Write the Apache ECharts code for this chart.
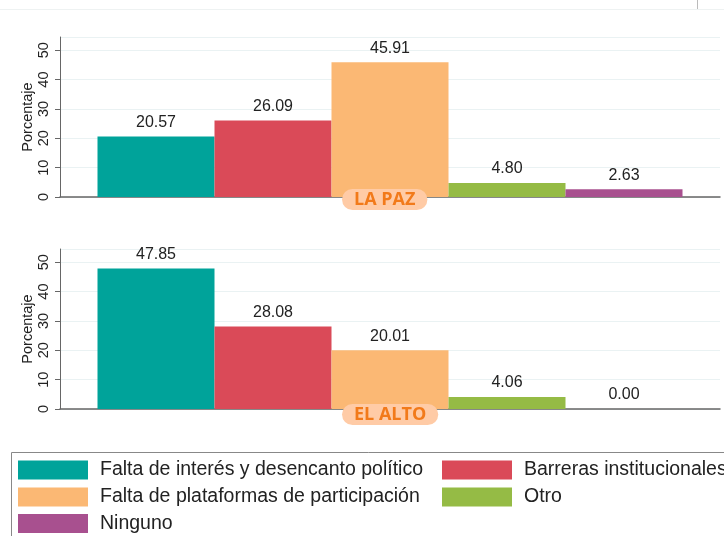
<!DOCTYPE html>
<html>
<head>
<meta charset="utf-8">
<script src="https://cdn.jsdelivr.net/npm/echarts@6/dist/echarts.min.js"></script>
<style>
  html, body { margin: 0; padding: 0; background: #fff; }
  #chart { width: 724px; height: 536px; }
</style>
</head>
<body>
<div id="chart"></div>
<script>
const seriesNames = [
  "Falta de interés y desencanto político",
  "Barreras institucionales",
  "Falta de plataformas de participación",
  "Otro",
  "Ninguno"
];
const colors = ["#00A39A", "#DA4A58", "#FBB874", "#95BB45", "#A8508F"];
const laPaz = [20.57, 26.09, 45.91, 4.80, 2.63];
const elAlto = [47.85, 28.08, 20.01, 4.06, 0.00];
const yTicks = [0, 10, 20, 30, 40, 50];

const chart = echarts.init(document.getElementById("chart"));

const makeY = (gridIndex) => ({
  type: "value",
  gridIndex,
  min: 0,
  max: 54.5,
  interval: 10,
  name: "Porcentaje",
  nameLocation: "middle",
  nameGap: 25,
  nameMoveOverlap: false,
  nameRotate: 90,
  nameTextStyle: { fontSize: 14.5, color: "#222", fontFamily: "Liberation Sans" },
  axisLine: { show: true, lineStyle: { color: "#666" } },
  axisTick: { show: true, length: 5, lineStyle: { color: "#666" } },
  axisLabel: {
    rotate: 90, fontSize: 14.5, color: "#222", margin: 9,
    fontFamily: "Liberation Sans", showMaxLabel: false,
    formatter: v => (yTicks.includes(v) ? String(v) : "")
  },
  splitLine: { show: true, lineStyle: { color: "#EAF2F3" } }
});

const makeX = (gridIndex) => ({
  type: "category",
  gridIndex,
  data: [""],
  axisLine: { show: true, lineStyle: { color: "#666", width: 1.5 } },
  axisTick: { show: false },
  axisLabel: { show: false }
});

const makeSeries = (values, idx) => values.map((v, i) => ({
  name: seriesNames[i],
  type: "bar",
  xAxisIndex: idx,
  yAxisIndex: idx,
  data: [v],
  barWidth: 117,
  barGap: "0%",
  itemStyle: { color: colors[i] },
  label: {
    show: true,
    position: "top",
    distance: 6,
    fontSize: 16,
    color: "#222",
    fontFamily: "Liberation Sans",
    formatter: p => p.value.toFixed(2)
  }
}));

const pillTitle = (text, top) => ({
  text,
  left: 342,
  top,
  padding: [2, 12, 1, 12],
  backgroundColor: "#FFCBA6",
  borderRadius: 12,
  textStyle: { color: "#F27A1A", fontSize: 18, fontWeight: "bold", fontFamily: "Open Sans" }
});

// one legend per entry so the two columns line up like the original
const legendSlots = [
  { name: seriesNames[0], left: 18, top: 460 },
  { name: seriesNames[1], left: 442, top: 460 },
  { name: seriesNames[2], left: 18, top: 487 },
  { name: seriesNames[3], left: 442, top: 487 },
  { name: seriesNames[4], left: 18, top: 513.5 }
];

const legends = legendSlots.map(s => ({
  left: s.left,
  top: s.top,
  padding: 0,
  itemWidth: 70,
  itemHeight: 19,
  icon: "rect",
  selectedMode: false,
  data: [s.name],
  textStyle: { fontSize: 19.5, color: "#222", fontFamily: "Liberation Sans", padding: [0, 0, 0, 7] }
}));

chart.setOption({
  animation: false,
  color: colors,
  title: [pillTitle("LA PAZ", 189), pillTitle("EL ALTO", 404)],
  grid: [
    { left: 60, right: 4, top: 37, height: 160 },
    { left: 60, right: 4, top: 249, height: 160 }
  ],
  xAxis: [makeX(0), makeX(1)],
  yAxis: [makeY(0), makeY(1)],
  legend: legends,
  graphic: [
    { type: "rect", shape: { x: 11.5, y: 452.5, width: 730, height: 100 },
      style: { fill: "none", stroke: "#888", lineWidth: 1 }, silent: true },
    { type: "line", shape: { x1: 0, y1: 9.5, x2: 724, y2: 9.5 },
      style: { stroke: "#EEF2F2", lineWidth: 1 }, silent: true },
    { type: "line", shape: { x1: 697.5, y1: 0, x2: 697.5, y2: 9 },
      style: { stroke: "#BBB", lineWidth: 1 }, silent: true }
  ],
  series: makeSeries(laPaz, 0).concat(makeSeries(elAlto, 1))
});
</script>
</body>
</html>
